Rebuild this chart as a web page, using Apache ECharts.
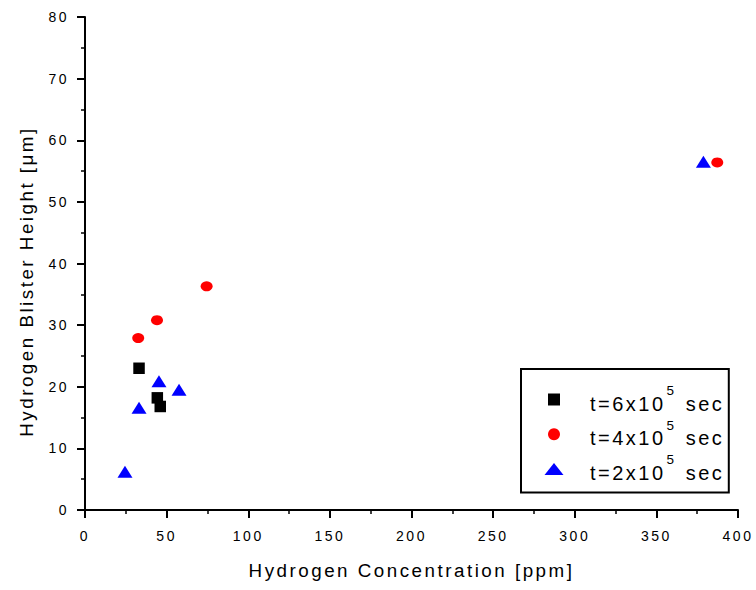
<!DOCTYPE html>
<html><head><meta charset="utf-8">
<script src="https://cdn.jsdelivr.net/npm/echarts@6/dist/echarts.min.js"></script>
<style>
html,body{margin:0;padding:0;background:#fff}
#chart{width:756px;height:590px}
#chart svg text{letter-spacing:2.5px}
</style></head><body><div id="chart"></div>
<script>
// Data
const seriesNames = ['t=6x10^5 sec', 't=4x10^5 sec', 't=2x10^5 sec'];
const t6x10_5 = [[33.1, 23.0], [44.3, 18.2], [46.1, 16.8]];
const t4x10_5 = [[32.6, 27.9], [44.1, 30.8], [74.5, 36.3], [387.3, 56.4]];
const t2x10_5 = [[24.5, 6.2], [33.1, 16.6], [45.3, 20.9], [57.6, 19.5], [378.8, 56.5]];
const xTicks = [0, 50, 100, 150, 200, 250, 300, 350, 400];
const yTicks = [0, 10, 20, 30, 40, 50, 60, 70, 80];
const xTitle = 'Hydrogen Concentration [ppm]';
const yTitle = 'Hydrogen Blister Height [\u03bcm]';

const FONT = 'Liberation Sans, Arial, sans-serif';
const chart = echarts.init(document.getElementById('chart'), null, {renderer: 'svg'});

function axisBase() {
  return {
    type: 'value',
    axisLine: {show: true, onZero: false, lineStyle: {color: '#000', width: 2}},
    axisTick: {show: true, length: 8, lineStyle: {color: '#000', width: 2}},
    minorTick: {show: true, splitNumber: 2, length: 4, lineStyle: {color: '#000', width: 1.5}},
    splitLine: {show: false},
    minorSplitLine: {show: false},
    axisLabel: {color: '#000', fontSize: 14, fontFamily: FONT},
    nameLocation: 'middle',
    nameTextStyle: {color: '#000', fontSize: 18.8, fontFamily: FONT}
  };
}

const xAxis = Object.assign(axisBase(), {
  min: xTicks[0], max: xTicks[xTicks.length - 1], interval: xTicks[1] - xTicks[0],
  name: xTitle, nameGap: 51
});
xAxis.axisLabel = Object.assign({}, xAxis.axisLabel, {margin: 19});

const yAxis = Object.assign(axisBase(), {
  min: yTicks[0], max: yTicks[yTicks.length - 1], interval: yTicks[1] - yTicks[0],
  name: yTitle, nameGap: 49
});
yAxis.axisLabel = Object.assign({}, yAxis.axisLabel, {margin: 16});
yAxis.nameTextStyle = Object.assign({}, yAxis.nameTextStyle, {padding: [0, 36, 0, 0]});

function richName(name) {
  const m = name.match(/^(.*)\^(\d+)(.*)$/);
  return '{a|' + m[1] + '}{s|' + m[2] + '}{a|' + m[3] + '}';
}

chart.setOption({
  animation: false,
  backgroundColor: '#fff',
  grid: {left: 85, right: 18, top: 17, bottom: 80, containLabel: false},
  xAxis: xAxis,
  yAxis: yAxis,
  legend: {
    orient: 'vertical',
    left: 521, top: 369,
    padding: [14.5, 14.5, 7.5, 23.5],
    itemWidth: 62, itemHeight: 12, itemGap: 2.7,
    borderColor: '#000', borderWidth: 2, borderRadius: 0,
    selectedMode: false,
    data: [
      {name: seriesNames[0], icon: 'path://M0,0L12,0L12,12L0,12Z'},
      {name: seriesNames[1], icon: 'circle'},
      {name: seriesNames[2], icon: 'path://M9.5,0L19,12L0,12Z'}
    ],
    formatter: richName,
    textStyle: {
      color: '#000', fontFamily: FONT, fontSize: 20,
      rich: {
        a: {color: '#000', fontFamily: FONT, fontSize: 20, lineHeight: 24, padding: [8, 0, 0, 0]},
        s: {color: '#000', fontFamily: FONT, fontSize: 13.5, lineHeight: 13, padding: [0, 3.5, 18, 16]}
      }
    }
  },
  series: [
    {name: seriesNames[0], type: 'scatter', data: t6x10_5, symbol: 'rect', symbolSize: 11.5,
     itemStyle: {color: '#000000', opacity: 1}},
    {name: seriesNames[1], type: 'scatter', data: t4x10_5, symbol: 'circle', symbolSize: [12, 10],
     itemStyle: {color: '#ff0000', opacity: 1}},
    {name: seriesNames[2], type: 'scatter', data: t2x10_5, symbol: 'triangle', symbolSize: [15, 12],
     itemStyle: {color: '#0000ff', opacity: 1}}
  ]
});
</script></body></html>
